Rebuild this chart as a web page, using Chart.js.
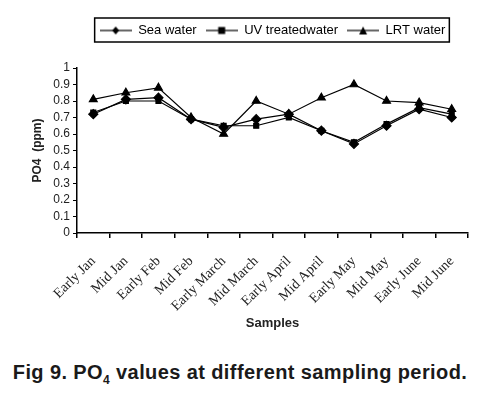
<!DOCTYPE html>
<html>
<head>
<meta charset="utf-8">
<script src="https://cdn.jsdelivr.net/npm/chart.js@4"></script>
<style>
  body { margin: 0; background: #fff; }
  #wrap { width: 480px; height: 345px; position: relative; }
  .caption {
    font-family: "Liberation Sans", Arial, sans-serif;
    font-weight: bold;
    font-size: 20px;
    letter-spacing: 0.4px;
    color: #1a1a1a;
    text-align: center;
    margin-top: 16px;
    width: 480px;
  }
  .caption sub { font-size: 12px; }
</style>
</head>
<body>
<div id="wrap"><canvas id="po4Chart" width="480" height="345"></canvas></div>
<div class="caption">Fig 9. PO<sub>4</sub> values at different sampling period.</div>
<script>
const samples = ["Early Jan", "Mid Jan", "Early Feb", "Mid Feb", "Early March", "Mid March",
  "Early April", "Mid April", "Early May", "Mid May", "Early June", "Mid June"];
const seaWater = [0.72, 0.81, 0.82, 0.69, 0.64, 0.69, 0.72, 0.62, 0.54, 0.65, 0.75, 0.70];
const uvWater  = [0.73, 0.80, 0.80, 0.69, 0.65, 0.65, 0.70, 0.62, 0.55, 0.66, 0.76, 0.72];
const lrtWater = [0.81, 0.85, 0.88, 0.70, 0.60, 0.80, 0.72, 0.82, 0.90, 0.80, 0.79, 0.75];
const yTicks = [0, 0.1, 0.2, 0.3, 0.4, 0.5, 0.6, 0.7, 0.8, 0.9, 1];

// small line+marker icons for the legend
function legendIcon(style) {
  const c = document.createElement("canvas");
  c.width = 32; c.height = 10;
  const g = c.getContext("2d");
  g.strokeStyle = "#000"; g.fillStyle = "#000"; g.lineWidth = 1.2;
  g.beginPath(); g.moveTo(0, 5); g.lineTo(32, 5); g.stroke();
  g.beginPath();
  if (style === "rectRot") { g.moveTo(16, 1); g.lineTo(19.5, 5); g.lineTo(16, 9); g.lineTo(12.5, 5); }
  else if (style === "rect") { g.rect(12.5, 1.5, 7, 7); }
  else { g.moveTo(16, 1); g.lineTo(20, 9); g.lineTo(12, 9); }
  g.closePath(); g.fill();
  return c;
}
const icons = [legendIcon("rectRot"), legendIcon("rect"), legendIcon("triangle")];

// boxed legend, with extra room under it before the plot
const legendBorder = {
  id: "legendBorder",
  afterInit(chart) {
    const legend = chart.legend;
    const fit = legend.fit;
    legend.fit = function () { fit.call(this); this.height += 21; };
  },
  afterDraw(chart) {
    const boxes = chart.legend.legendHitBoxes;
    if (!boxes || !boxes.length) return;
    const left = Math.min(...boxes.map(b => b.left)) - 5;
    const right = Math.max(...boxes.map(b => b.left + b.width)) + 4;
    const top = boxes[0].top - 6;
    const bottom = boxes[0].top + boxes[0].height + 5;
    const ctx = chart.ctx;
    ctx.save();
    ctx.strokeStyle = "#000";
    ctx.lineWidth = 1.5;
    ctx.strokeRect(left, top, right - left, bottom - top);
    ctx.restore();
  }
};

const ds = (label, data, style) => ({
  label, data,
  borderColor: "#000",
  backgroundColor: "#000",
  borderWidth: 1.2,
  pointStyle: style,
  pointRadius: style === "rect" ? 3.5 : 4.5,
  pointBackgroundColor: "#000",
  pointBorderColor: "#000",
  tension: 0
});

new Chart(document.getElementById("po4Chart"), {
  type: "line",
  data: {
    labels: samples,
    datasets: [
      ds("Sea water", seaWater, "rectRot"),
      ds("UV treatedwater", uvWater, "rect"),
      ds("LRT water", lrtWater, "triangle")
    ]
  },
  options: {
    responsive: false,
    animation: false,
    layout: { padding: { top: 15, right: 12, left: 0, bottom: 4 } },
    plugins: {
      tooltip: { enabled: false },
      legend: {
        position: "top",
        fullSize: false,
        labels: {
          usePointStyle: true,
          pointStyleWidth: 32,
          boxHeight: 10,
          padding: 9,
          color: "#000",
          font: { family: "'Liberation Sans', Arial, sans-serif", size: 13 },
          generateLabels: (chart) =>
            Chart.defaults.plugins.legend.labels.generateLabels(chart)
              .map((item, i) => ({ ...item, pointStyle: icons[i] }))
        }
      }
    },
    scales: {
      x: {
        offset: true,
        afterFit: (s) => { s.height = 108; },
        border: { color: "#000", width: 1.5 },
        grid: { display: true, offset: true, drawOnChartArea: false, drawTicks: true, tickLength: 5, color: "#000", lineWidth: 1.5 },
        ticks: {
          maxRotation: 45, minRotation: 45, autoSkip: false, padding: 15,
          color: "#222",
          font: { family: "'Liberation Serif', 'Times New Roman', serif", size: 14 }
        },
        title: {
          display: true, text: "Samples", color: "#222",
          font: { family: "'Liberation Sans', Arial, sans-serif", size: 13, weight: "bold" },
          padding: { top: 4, bottom: 10 }
        }
      },
      y: {
        min: 0, max: 1,
        afterFit: (s) => { s.width = 77; },
        afterBuildTicks: (s) => { s.ticks = yTicks.map(v => ({ value: v })); },
        border: { color: "#000", width: 1.5 },
        grid: { display: true, drawOnChartArea: false, drawTicks: true, tickLength: 4, color: "#000", lineWidth: 1 },
        ticks: {
          autoSkip: false,
          color: "#222", padding: 3,
          font: { family: "'Liberation Sans', Arial, sans-serif", size: 12 },
          callback: (v) => String(Math.round(v * 10) / 10)
        },
        title: {
          display: true, text: "PO4  (ppm)", color: "#222",
          font: { family: "'Liberation Sans', Arial, sans-serif", size: 12, weight: "bold" },
          padding: { top: 30, bottom: 0 }
        }
      }
    }
  },
  plugins: [legendBorder]
});
</script>
</body>
</html>
